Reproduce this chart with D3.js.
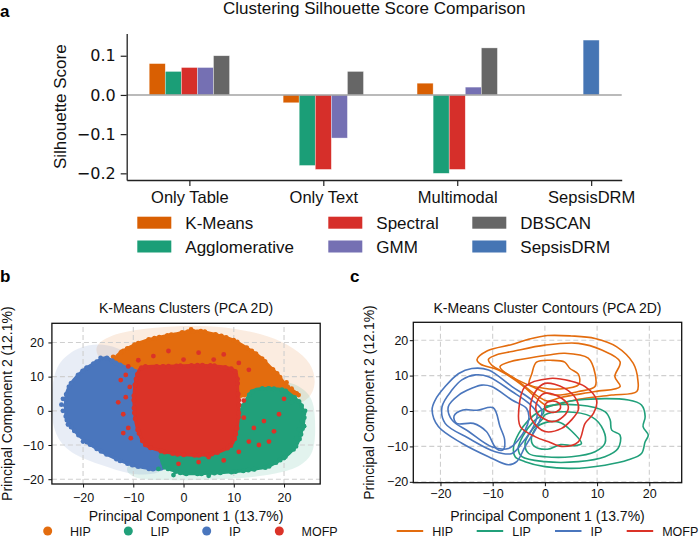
<!DOCTYPE html>
<html>
<head>
<meta charset="utf-8">
<script src="https://cdn.jsdelivr.net/npm/d3@7"></script>
<style>
body { margin: 0; background: #fff; }
svg { font-family: "Liberation Sans", Arial, sans-serif; }
</style>
</head>
<body>
<svg id="chart" width="699" height="538"></svg>
<script>
// ---- panel a data ----
const groups = ['Only Table', 'Only Text', 'Multimodal', 'SepsisDRM'];
const methods = ['K-Means', 'Agglomerative', 'Spectral', 'GMM', 'DBSCAN', 'SepsisDRM'];
const kmeansScores = [0.08, -0.02, 0.03, null];
const agglomerativeScores = [0.06, -0.18, -0.20, null];
const spectralScores = [0.07, -0.19, -0.19, null];
const gmmScores = [0.07, -0.11, 0.02, null];
const dbscanScores = [0.10, 0.06, 0.12, null];
const sepsisScores = [null, null, null, 0.14];
const scoreTicks = [-0.2, -0.1, 0.0, 0.1];

// ---- panel b / c data ----
const clusters = ['HIP', 'LIP', 'IP', 'MOFP'];
const pcTicks = [-20, -10, 0, 10, 20];

// pale density areas behind the scatter
const hipDensity = [[-18, 19.5], [-13, 23], [-6, 24.5], [3, 25], [10, 24.3], [17, 22], [22, 18.5], [25.5, 14], [26.5, 8], [25, 3], [21, 1], [14, 3], [5, 2], [-5, 5], [-12, 10], [-17, 15]];
const ipDensity = [[-19, 19.5], [-23, 17], [-26, 12], [-26.5, 0], [-25.5, -8], [-22, -13], [-16, -16], [-11, -18.5], [-6, -19], [-2, -16], [-1, -5], [-3, 5], [-6, 12], [-11, 17], [-15, 19.5]];
const lipDensity = [[15, 8], [20.5, 9], [24, 6.5], [26, 3], [26.3, -5], [26, -12.5], [23.5, -16], [20, -18], [12.6, -19.8], [2.6, -20.3], [-5, -20.3], [-9.5, -20], [-12, -17.5], [-10, -14], [-3, -12], [5, -8], [10, -3], [13, 3]];
const mofpDensity = [[-10, 12], [-3, 15], [5, 15], [11, 12], [13, 5], [13, -6], [10, -13], [2, -15], [-5, -14], [-9, -9], [-11, 0]];

// dense point masses (outline of each cluster's cloud)
const hipCloud = [[-13.5, 15.5], [-12, 17.5], [-9.9, 19.2], [-7, 20.8], [-5.3, 21.4], [-2, 22.4], [0.7, 23.1], [3.3, 23.3], [6.5, 22.3], [9.9, 20.7], [13, 18], [15.2, 15.8], [17.5, 12.5], [18.6, 10.9], [20.6, 7.2], [22.5, 5], [20, 4.5], [15, 5], [8, 4], [0, 4], [-8, 8], [-11, 11]];
const ipCloud = [[-15.5, 15.5], [-13.5, 14], [-11, 12.5], [-8, 11], [-5, 9], [-4, 0], [-4, -12], [-3, -15.5], [-5.3, -17], [-9.3, -16.2], [-13.2, -14.2], [-17.9, -10.5], [-21.2, -6.6], [-23.2, -2.7], [-23.5, 1.2], [-23.2, 5.6], [-21.9, 9], [-19.9, 11.9], [-17.9, 13.8]];
const lipCloud = [[14, 6], [17, 6.5], [20, 6], [22, 4], [23.3, 2], [24, -1.7], [23.4, -6.6], [22.5, -10], [21, -12.5], [18.5, -15], [16.6, -16.4], [13, -17.3], [10, -17.8], [6, -18.2], [3.3, -18.4], [0, -18.3], [-2, -17.5], [-4, -16], [-4, -10], [5, -8], [10, -4], [12, 2]];
const mofpCloud = [[-8.5, 12.5], [-4, 13], [0, 13.2], [4, 13.3], [8, 12.8], [10.3, 11.5], [10.8, 6], [11, 0], [10.5, -6], [9.5, -10], [6, -12.5], [2, -13], [-2, -12.5], [-5, -11.5], [-7.5, -10], [-9, -6], [-9.8, 0], [-9.8, 6], [-9.3, 10]];

// stray points outside the dense masses
const hipStray = [[22.9, 4.6], [21.5, 6.5], [1.5, 23.8], [-12.5, 17], [18, 11], [-14, 15.8], [20.5, 8.3]];
const lipStray = [[24.2, 0], [23.5, -3], [22.5, -8], [23, -5.5], [21.5, 2.5], [-5, -17], [20, -13.8], [5, -19], [-2, -18.8], [24, -4.5]];
const ipStray = [[-24, 0], [-23, -4], [-24, 3.5], [-16.5, 15.5], [-19, 12.5], [-20, -9], [-4, -16.5], [-24.3, 1.8]];
const mofpStray = [[-12.5, 9], [-11.5, 4], [-12, -1], [-11, -5], [-10.5, -8], [-13, 2.5], [-10.7, 7], [-12, -6.5], [-11.5, 10.5],
  [-9, 14.8], [-6, 16], [-3, 17.5], [0, 15], [3, 17], [6, 15], [8, 16.5], [11, 14], [13, 12], [-11, 13],
  [12, -2], [14, -5], [16, -3], [18, -6], [13, -9], [15, -10], [17, -9], [11, -12], [8, -14.5], [3, -15], [-1, -15.5], [5, -13.5], [19, -1], [12, 3], [20, 3.5]];

// density contours, outer to inner
const hipContours = [
  [[-13, 14.5], [-11, 17], [-6.3, 18.8], [-3, 20.3], [0.5, 21.3], [5, 21.2], [9.6, 20.5], [13.7, 18.2], [16.9, 13.5], [17.8, 8.8], [17.6, 5.5], [12.8, 4.5], [6.4, 3.3], [0.5, 1.5], [-1.2, 3.1], [-4.4, 7.3], [-8.9, 11.6], [-12.3, 13.2]],
  [[-10.8, 14.6], [-9, 16], [-6.3, 16.8], [0, 18.6], [6.4, 19.1], [10.9, 17.2], [14.4, 13.9], [13.4, 9.7], [14.4, 6.9], [9.6, 5.5], [3.2, 3.9], [0.5, 2.8], [-1.2, 4.0], [-6.3, 9.7], [-10.2, 13]],
  [[-8.6, 12.5], [-6.5, 14], [-4.4, 14.6], [0.7, 15.8], [3.8, 16.3], [8.3, 14.9], [9.6, 10.6], [9.6, 6.9], [6.4, 5.5], [1.9, 4.5], [-2.5, 6.9], [-7, 10.2]],
  [[-3, 7.5], [-2.5, 10.5], [-1.6, 13.8], [1.5, 14.3], [3.8, 13.8], [4.8, 12], [6.4, 10.4], [6.5, 7.5], [2.6, 6.2], [-0.5, 6.5]]
];
const lipContours = [
  [[0.7, 1.2], [6.4, 3.1], [16, 3.1], [18.5, 1.7], [19.2, -1.6], [18.8, -4.4], [19.8, -6.8], [19.2, -8.7], [18.5, -12], [16, -13.8], [11.5, -15.3], [5.1, -16.2], [0, -15.7], [-3.8, -14.3], [-5.7, -12.9], [-6, -10.1], [-5, -6.3], [-3.1, -2.5], [-1.2, -0.2]],
  [[0, 1.0], [6.4, 1.7], [11.5, -0.2], [12.5, -2.5], [12.8, -5.4], [14.4, -6.8], [14, -10.6], [11.5, -12.9], [6.4, -14.3], [0, -14.3], [-4.4, -12.9], [-5.1, -10.6], [-4.1, -6.8], [-2.2, -3], [-0.3, -0.7]],
  [[0, -1.1], [3.8, -0.2], [8.9, -1.6], [11.2, -5.4], [11.5, -9.1], [9.6, -11.5], [5.1, -12.9], [0, -12.9], [-3.1, -12], [-3.8, -9.1], [-2.5, -5.4], [-0.6, -2.5]],
  [[-1.5, -4.5], [1, -3], [3, -3.3], [5, -5.5], [7, -9.2], [5.5, -9.8], [3, -9.5], [0.5, -10.8], [-2, -10], [-2.6, -8]]
];
const ipContours = [
  [[-14, 12], [-10.8, 11.6], [-6.3, 6.9], [-2.5, 3.1], [-0.6, 0.3], [-1.2, -3.5], [-3.8, -10.1], [-5.4, -14.3], [-7, -15.2], [-10.8, -12.9], [-15.9, -9.1], [-20.4, -4.4], [-21.6, 0.3], [-21, 3.1], [-19.1, 6.9], [-16.5, 10.6]],
  [[-13.3, 10.2], [-10.8, 9.7], [-6.3, 5.5], [-3.1, 2.2], [-1.5, -0.7], [-2.2, -4.4], [-4.4, -9.1], [-6.3, -12], [-9.5, -11.5], [-14.6, -7.7], [-19.1, -3.5], [-19.7, 1.2], [-17.8, 5.9], [-15.9, 8.8]],
  [[-12.1, 7.3], [-10.2, 6.9], [-6.3, 3.1], [-3.5, 0.7], [-3.1, -2.5], [-5.1, -8.2], [-7, -10.6], [-10.2, -10.1], [-14.6, -5.8], [-17.8, -2.5], [-18.5, 1.2], [-16.5, 4.5], [-14, 6.4]],
  [[-17.4, -1.4], [-15.7, 0.3], [-13, 0.2], [-9.9, 0.9], [-8.6, -4.4], [-7.7, -8.2], [-8, -11], [-9.3, -10.6], [-11.2, -5.8], [-13.7, -3.5], [-16.9, -3.5]]
];
const mofpContours = [
  [[1, 9.2], [4.8, 8.5], [7.7, 6.9], [9.9, 3.1], [9.3, -0.7], [7.7, -3.5], [6.4, -8.7], [3.2, -10], [0.7, -8.7], [-1.8, -7.3], [-4.7, -4.4], [-5, 0.3], [-3.8, 6.9]],
  [[0, 7.8], [3.8, 6.4], [6.1, 3.1], [6.4, 0.3], [5.1, -2.5], [3.2, -4.9], [0, -5.8], [-2.5, -2.5], [-2.8, 1.2], [-1.8, 5.5]],
  [[0, 5], [3.2, 3.6], [4.5, 1.2], [3.5, -1.6], [1.3, -3], [-1.5, -0.5], [-1.5, 2.6]],
  [[1.2, 2.8], [2.7, 2.2], [3, 0.9], [2.2, -0.2], [1, -0.3], [0, 0.6], [0.1, 2]]
];

// ---- styles ----
const methodColors = ['#d95f02', '#1b9e77', '#d62f2a', '#7570b3', '#666666', '#4575b4'];
const clusterColors = ['#e36c0e', '#21a07a', '#4a76bd', '#db3328'];

const svg = d3.select('#chart');
const fmtScore = d3.format('.1f');

// ================= panel a =================
const xa = d3.scaleLinear().domain([-0.468, 3.228]).range([126.7, 621.7]);
const ya = d3.scaleLinear().domain([-0.217, 0.157]).range([180, 33.4]);
const barW = 0.12;

const scoreSeries = [kmeansScores, agglomerativeScores, spectralScores, gmmScores, dbscanScores, sepsisScores];
const bars = [];
scoreSeries.forEach((series, j) => series.forEach((v, i) => {
    if (v !== null) bars.push({ j, i, v, off: j < 5 ? (j - 2) * barW : 0 });
}));

const pa = svg.append('g');

pa.selectAll('.bar')
    .data(bars)
    .enter()
    .append('rect')
    .attr('class', 'bar')
    .attr('x', d => xa(d.i + d.off - barW / 2))
    .attr('width', xa(barW) - xa(0))
    .attr('y', d => ya(Math.max(0, d.v)))
    .attr('height', d => Math.abs(ya(d.v) - ya(0)))
    .attr('fill', d => methodColors[d.j])
    .attr('stroke', 'rgba(255,255,255,0.6)')
    .attr('stroke-width', 0.6);

pa.append('line')
    .attr('x1', xa.range()[0]).attr('x2', xa.range()[1])
    .attr('y1', ya(0)).attr('y2', ya(0))
    .attr('stroke', '#a3a3a3').attr('stroke-width', 1.6);

const axA = pa.append('g')
    .attr('transform', `translate(${xa.range()[0]},0)`)
    .call(d3.axisLeft(ya).tickValues(scoreTicks).tickFormat(fmtScore).tickSize(6).tickPadding(5).tickSizeOuter(0));
axA.selectAll('text').attr('font-family', '"DejaVu Sans", sans-serif').attr('font-size', 16).attr('fill', '#111');

const axB = pa.append('g')
    .attr('transform', `translate(0,${ya.range()[0]})`)
    .call(d3.axisBottom(xa).tickValues([0, 1, 2, 3]).tickFormat(i => groups[i]).tickSize(6).tickPadding(5).tickSizeOuter(0));
axB.selectAll('text').attr('font-family', '"Liberation Sans", Arial, sans-serif').attr('font-size', 16.5).attr('fill', '#111');

[axA, axB].forEach(ax => {
    ax.select('.domain').attr('stroke', '#222').attr('stroke-width', 1.3);
    ax.selectAll('.tick line').attr('stroke', '#222').attr('stroke-width', 1.2);
});

pa.append('text')
    .attr('x', (xa.range()[0] + xa.range()[1]) / 2)
    .attr('y', 13.5)
    .attr('text-anchor', 'middle')
    .attr('font-size', 17)
    .attr('fill', '#111')
    .text('Clustering Silhouette Score Comparison');

pa.append('text')
    .attr('transform', `translate(66,${(ya.range()[0] + ya.range()[1]) / 2}) rotate(-90)`)
    .attr('text-anchor', 'middle')
    .attr('font-size', 17)
    .attr('fill', '#111')
    .text('Silhouette Score');

// legend: 3 columns, filled column by column
const legendColX = [137.3, 328.3, 472.3];
const legendA = pa.append('g');
const legendItem = legendA.selectAll('g')
    .data(methods)
    .enter()
    .append('g')
    .attr('transform', (d, k) => `translate(${legendColX[Math.floor(k / 2)]},${216.7 + (k % 2) * 23.8})`);
legendItem.append('rect')
    .attr('width', 34).attr('height', 12)
    .attr('fill', (d, k) => methodColors[k]);
legendItem.append('text')
    .attr('x', 48).attr('y', 12)
    .attr('font-size', 17)
    .attr('fill', '#111')
    .text(d => d);

// ================= panels b and c shared frame =================
function drawGrid(g, x, y) {
    const [x0, x1] = x.range();
    const [y0, y1] = y.range();

    const grid = g.append('g');
    grid.selectAll('.gx').data(pcTicks).enter().append('line')
        .attr('x1', d => x(d)).attr('x2', d => x(d)).attr('y1', y0).attr('y2', y1);
    grid.selectAll('.gy').data(pcTicks).enter().append('line')
        .attr('x1', x0).attr('x2', x1).attr('y1', d => y(d)).attr('y2', d => y(d));
    grid.selectAll('line')
        .attr('stroke', '#cfcfcf').attr('stroke-width', 1.1).attr('stroke-dasharray', '5,3');
    return grid;
}

function drawAxes(g, x, y, cfg) {
    const [x0, x1] = x.range();
    const [y0, y1] = y.range();
    const ax = g.append('g')
        .attr('transform', `translate(0,${y0})`)
        .call(d3.axisBottom(x).tickValues(pcTicks).tickSize(3.5).tickPadding(cfg.xPad).tickSizeOuter(0));
    const ay = g.append('g')
        .attr('transform', `translate(${x0},0)`)
        .call(d3.axisLeft(y).tickValues(pcTicks).tickSize(3.5).tickPadding(cfg.yPad).tickSizeOuter(0));
    [ax, ay].forEach(a => {
        a.select('.domain').remove();
        a.selectAll('.tick line').attr('stroke', '#111');
        a.selectAll('text').attr('font-family', '"Liberation Sans", Arial, sans-serif').attr('font-size', 12.5).attr('fill', '#111');
    });

    g.append('rect')
        .attr('x', x0).attr('y', y1)
        .attr('width', x1 - x0).attr('height', y0 - y1)
        .attr('fill', 'none').attr('stroke', '#111').attr('stroke-width', 1.3);

    g.append('text')
        .attr('x', (x0 + x1) / 2).attr('y', 313)
        .attr('text-anchor', 'middle').attr('font-size', 14).attr('fill', '#111')
        .text(cfg.title);
    g.append('text')
        .attr('x', (x0 + x1) / 2).attr('y', 520.5)
        .attr('text-anchor', 'middle').attr('font-size', 14).attr('fill', '#111')
        .text('Principal Component 1 (13.7%)');
    g.append('text')
        .attr('transform', `translate(${cfg.yLabelX},${(y0 + y1) / 2}) rotate(-90)`)
        .attr('text-anchor', 'middle').attr('font-size', 14).attr('fill', '#111')
        .text('Principal Component 2 (12.1%)');
}

// ================= panel b =================
const xb = d3.scaleLinear().domain([-26.2, 27.2]).range([51.9, 320.2]);
const yb = d3.scaleLinear().domain([-21.4, 25.6]).range([484, 323.3]);
const pb = svg.append('g');

svg.append('clipPath').attr('id', 'clipB').append('rect')
    .attr('x', xb.range()[0]).attr('y', yb.range()[1])
    .attr('width', xb.range()[1] - xb.range()[0]).attr('height', yb.range()[0] - yb.range()[1]);

const smoothB = d3.line().x(d => xb(d[0])).y(d => yb(d[1])).curve(d3.curveBasisClosed);
const blobB = d3.line().x(d => xb(d[0])).y(d => yb(d[1])).curve(d3.curveCatmullRomClosed.alpha(0.5));

const plotB = pb.append('g').attr('clip-path', 'url(#clipB)');

[hipDensity, lipDensity, ipDensity, mofpDensity].forEach((poly, k) => {
    plotB.append('path').attr('d', smoothB(poly))
        .attr('fill', clusterColors[k]).attr('fill-opacity', 0.13);
});

drawGrid(plotB, xb, yb);

// each cloud: solid body, ragged dotted rim, then its stray points
const cloudOrder = [[hipCloud, hipStray, 0], [ipCloud, ipStray, 2], [lipCloud, lipStray, 1], [mofpCloud, mofpStray, 3]];
cloudOrder.forEach(([cloud, stray, k]) => {
    const body = plotB.append('g');
    body.append('path').attr('d', blobB(cloud))
        .attr('fill', clusterColors[k])
        .attr('stroke', clusterColors[k])
        .attr('stroke-width', 3);
    body.append('path').attr('d', blobB(cloud))
        .attr('fill', 'none')
        .attr('stroke', clusterColors[k])
        .attr('stroke-width', 5)
        .attr('stroke-linecap', 'round')
        .attr('stroke-dasharray', '0,5,0,8,0,4,0,11,0,6');
    body.selectAll(null)
        .data(stray)
        .enter()
        .append('circle')
        .attr('cx', d => xb(d[0]))
        .attr('cy', d => yb(d[1]))
        .attr('r', 2.4)
        .attr('fill', clusterColors[k]);
});

drawAxes(pb, xb, yb, { title: 'K-Means Clusters (PCA 2D)', xPad: 6, yPad: 4.5, yLabelX: 12 });

// legend b
const legendBX = [47.7, 128.3, 206.7, 279.3];
const legB = pb.selectAll('.legb')
    .data(clusters)
    .enter()
    .append('g')
    .attr('transform', (d, k) => `translate(${legendBX[k]},531)`);
legB.append('circle').attr('r', 4.5).attr('fill', (d, k) => clusterColors[k]);
legB.append('text').attr('x', 22.3).attr('y', 4.5)
    .attr('font-size', 12.5).attr('fill', '#111').text(d => d);

// ================= panel c =================
const xc = d3.scaleLinear().domain([-25.2, 26.2]).range([413.3, 681.7]);
const yc = d3.scaleLinear().domain([-20.25, 25.05]).range([482.7, 322.3]);
const pc = svg.append('g');

drawGrid(pc, xc, yc);

const contourLine = d3.line().x(d => xc(d[0])).y(d => yc(d[1])).curve(d3.curveCatmullRomClosed.alpha(0.5));
[hipContours, lipContours, ipContours, mofpContours].forEach((levels, k) => {
    pc.append('g')
        .selectAll('path')
        .data(levels)
        .enter()
        .append('path')
        .attr('d', contourLine)
        .attr('fill', 'none')
        .attr('stroke', clusterColors[k])
        .attr('stroke-width', 1.6)
        .attr('stroke-linejoin', 'round');
});

drawAxes(pc, xc, yc, { title: 'K-Means Cluster Contours (PCA 2D)', xPad: 3, yPad: 1.5, yLabelX: 373.7 });

// legend c
const legendCX = [396.7, 476.7, 555, 626.7];
const legC = pc.selectAll('.legc')
    .data(clusters)
    .enter()
    .append('g')
    .attr('transform', (d, k) => `translate(${legendCX[k]},531)`);
legC.append('line').attr('x1', 0).attr('x2', 26.5)
    .attr('stroke', (d, k) => clusterColors[k]).attr('stroke-width', 2);
legC.append('text').attr('x', 35.5).attr('y', 4.5)
    .attr('font-size', 12.5).attr('fill', '#111').text(d => d);

// panel letters
[['a', 0, 17], ['b', 0, 282], ['c', 350, 282]].forEach(([t, x, y]) => {
    svg.append('text').attr('x', x).attr('y', y)
        .attr('font-size', 17).attr('font-weight', 'bold').attr('fill', '#000')
        .text(t);
});
</script>
</body>
</html>
